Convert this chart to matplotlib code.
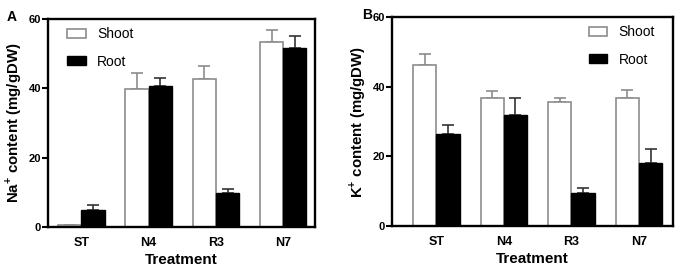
import numpy as np
import matplotlib
matplotlib.use("Agg")
import matplotlib.pyplot as plt

plt.rcParams['font.family'] = ['Liberation Sans', 'DejaVu Sans']
plt.rcParams['mathtext.fontset'] = 'custom'
plt.rcParams['mathtext.bf'] = 'Liberation Sans:bold'
plt.rcParams['mathtext.rm'] = 'Liberation Sans:bold'

treatments = ["ST", "N4", "R3", "N7"]

# panel A: Na+ content
na_shoot = [0.5, 39.8, 42.7, 53.3]
na_shoot_err = [0.2, 4.5, 3.6, 3.6]
na_root = [5.0, 40.8, 9.8, 51.5]
na_root_err = [1.3, 2.3, 1.2, 3.7]

# panel B: K+ content
k_shoot = [46.3, 36.9, 35.5, 36.9]
k_shoot_err = [3.1, 1.9, 1.4, 2.1]
k_root = [26.4, 31.9, 9.4, 18.0]
k_root_err = [2.6, 4.8, 1.4, 4.0]

fig = plt.figure(figsize=(6.8, 2.75), dpi=100)
axA = fig.add_axes([0.0706, 0.1745, 0.3925, 0.7565])
axB = fig.add_axes([0.5765, 0.178, 0.4135, 0.760])

width = 0.345


def draw(ax, shoot, shoot_err, root, root_err, ylabel, xlim, legend_x):
    x = np.arange(len(treatments))
    ax.bar(x - width / 2, shoot, width, color="white", edgecolor="#8c8c8c",
           linewidth=1.2, label="Shoot", zorder=2)
    ax.bar(x + width / 2, root, width, color="black", edgecolor="black",
           linewidth=1.0, label="Root", zorder=2)
    ax.errorbar(x - width / 2, shoot, yerr=[np.zeros(4), shoot_err], fmt="none",
                ecolor="#8c8c8c", elinewidth=1.2, capsize=4.5, capthick=1.2,
                zorder=1)
    ax.errorbar(x + width / 2, root, yerr=[np.zeros(4), root_err], fmt="none",
                ecolor="#333333", elinewidth=1.2, capsize=4.5, capthick=1.2,
                zorder=1)
    ax.set_ylim(0, 60)
    ax.set_xlim(*xlim)
    ax.set_yticks([0, 20, 40, 60])
    ax.set_xticks(x)
    ax.set_xticklabels(treatments, fontsize=9, fontweight="bold")
    for t in ax.get_yticklabels():
        t.set_fontsize(8)
        t.set_fontweight("bold")
    ax.tick_params(axis="x", length=0, pad=7)
    ax.tick_params(axis="y", length=4, width=1.5, pad=1)
    for s in ax.spines.values():
        s.set_linewidth(1.7)
    ax.set_xlabel("Treatment", fontsize=11, fontweight="bold", labelpad=3)
    ax.set_ylabel(ylabel, fontsize=10.8, fontweight="bold", labelpad=3)
    ax.legend(loc="upper left", bbox_to_anchor=(legend_x, 1.02), frameon=False,
              fontsize=10, handlelength=1.35, handleheight=0.65,
              labelspacing=0.95, handletextpad=0.8, borderaxespad=0.5)


draw(axA, na_shoot, na_shoot_err, na_root, na_root_err,
     r"Na$^{+}$ content (mg/gDW)", (-0.496, 3.471), 0.025)
draw(axB, k_shoot, k_shoot_err, k_root, k_root_err,
     r"K$^{+}$ content (mg/gDW)", (-0.655, 3.507), 0.655)

fig.text(0.010, 0.925, "A", fontsize=10, fontweight="bold")
fig.text(0.532, 0.93, "B", fontsize=10, fontweight="bold")

fig.savefig("out.png", dpi=100)
